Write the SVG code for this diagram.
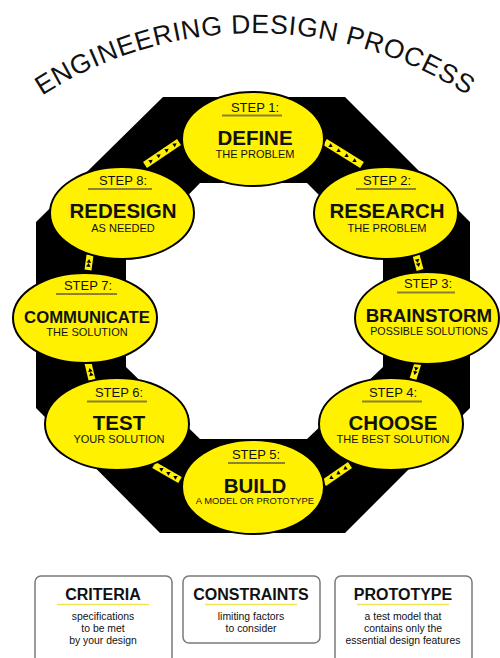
<svg xmlns="http://www.w3.org/2000/svg" xmlns:xlink="http://www.w3.org/1999/xlink" width="500" height="658" viewBox="0 0 500 658">
<style>
text{font-family:"Liberation Sans",Arial,Helvetica,sans-serif;fill:#111;text-anchor:middle}
.ell{fill:#fff100;stroke:#000;stroke-width:2}
.step{font-size:13px}
.title{font-size:20.5px;font-weight:bold}
.sub{font-size:11px}
.ul{stroke:#8a8232;stroke-width:2}
.strip{fill:none;stroke:#fff100;stroke-width:7}
.arr{fill:none;stroke:none;marker-start:url(#tri);marker-mid:url(#tri);marker-end:url(#tri)}
.box{fill:#fff;stroke:#7a7a7a;stroke-width:1.5}
.bh{font-size:16px;font-weight:bold}
.bt{font-size:10.4px}
.bul{stroke:#f2e450;stroke-width:1.6}
</style>
<defs>
<marker id="tri" viewBox="0 0 10 10" refX="5" refY="5" markerWidth="5" markerHeight="5" markerUnits="userSpaceOnUse" orient="auto">
<path d="M1.5,0.5 L9,5 L1.5,9.5 z" fill="#000"/>
</marker>
<path id="arc" d="M 2.4 125 A 393 393 0 0 1 507.6 125"/>
</defs>

<g id="heading">
<text style="font-size:26.5px;letter-spacing:0.7px"><textPath xlink:href="#arc" href="#arc" startOffset="50%">ENGINEERING DESIGN PROCESS</textPath></text>
</g>

<g id="ring">
<path fill="#000" fill-rule="evenodd" d="M163,97 L345,97 L470,222 L470,408 L345,533 L160,533 L36,408 L36,222 Z M200,183 L307,183 L383,259 L383,367 L307,439 L200,439 L126,367 L126,259 Z"/>
</g>

<g id="connectors">
<path class="strip" d="M145,165 L179,142"/>
<path class="arr" d="M151,161 L159,155.5 L167,150 L175,144.5"/>
<path class="strip" d="M325,142 L362,165"/>
<path class="arr" d="M331,146 L339,151 L347,156 L355,161"/>
<path class="strip" d="M416,255 L420,270"/>
<path class="arr" d="M417.5,261 L418.5,265"/>
<path class="strip" d="M418,363 L413,379"/>
<path class="arr" d="M416,369 L415,373"/>
<path class="strip" d="M350,465 L324,483"/>
<path class="arr" d="M345,468.5 L338,473.3 L331,478"/>
<path class="strip" d="M180,480 L154,465"/>
<path class="arr" d="M175,477 L168,473 L161,469"/>
<path class="strip" d="M92,380 L88,363"/>
<path class="arr" d="M91,374 L90,370"/>
<path class="strip" d="M88,270 L90,255"/>
<path class="arr" d="M88.5,265 L89,261"/>
</g>

<g id="step1">
<ellipse class="ell" cx="253" cy="139" rx="71" ry="47"/>
<text class="step" x="255" y="112">STEP 1:</text>
<line class="ul" x1="222" y1="115.5" x2="282" y2="115.5"/>
<text class="title" x="255" y="145">DEFINE</text>
<text class="sub" x="255" y="158">THE PROBLEM</text>
</g>

<g id="step2">
<ellipse class="ell" cx="386" cy="213" rx="72" ry="46"/>
<text class="step" x="387" y="185">STEP 2:</text>
<line class="ul" x1="356" y1="189" x2="416" y2="189"/>
<text class="title" x="387" y="218">RESEARCH</text>
<text class="sub" x="387" y="232">THE PROBLEM</text>
</g>

<g id="step3">
<ellipse class="ell" cx="427" cy="318" rx="72" ry="46"/>
<text class="step" x="428" y="288">STEP 3:</text>
<line class="ul" x1="397" y1="292.5" x2="455" y2="292.5"/>
<text class="title" x="429" y="321.5" style="font-size:18.7px">BRAINSTORM</text>
<text class="sub" x="429" y="335" style="font-size:10.7px">POSSIBLE SOLUTIONS</text>
</g>

<g id="step4">
<ellipse class="ell" cx="391" cy="424" rx="72" ry="46"/>
<text class="step" x="393" y="397">STEP 4:</text>
<line class="ul" x1="362" y1="401.5" x2="422" y2="401.5"/>
<text class="title" x="393" y="430">CHOOSE</text>
<text class="sub" x="393" y="443">THE BEST SOLUTION</text>
</g>

<g id="step5">
<ellipse class="ell" cx="253" cy="487" rx="71" ry="47"/>
<text class="step" x="256" y="459">STEP 5:</text>
<line class="ul" x1="228" y1="463" x2="285" y2="463"/>
<text class="title" x="255" y="493">BUILD</text>
<text class="sub" x="255" y="504" style="font-size:9.4px">A MODEL OR PROTOTYPE</text>
</g>

<g id="step6">
<ellipse class="ell" cx="117" cy="424" rx="72" ry="46"/>
<text class="step" x="119" y="397">STEP 6:</text>
<line class="ul" x1="87" y1="401.5" x2="147" y2="401.5"/>
<text class="title" x="119" y="430">TEST</text>
<text class="sub" x="119" y="443">YOUR SOLUTION</text>
</g>

<g id="step7">
<ellipse class="ell" cx="85" cy="318" rx="72" ry="45"/>
<text class="step" x="88" y="290">STEP 7:</text>
<line class="ul" x1="56" y1="294" x2="117" y2="294"/>
<text class="title" x="87" y="322.5" style="font-size:16.7px">COMMUNICATE</text>
<text class="sub" x="87" y="336">THE SOLUTION</text>
</g>

<g id="step8">
<ellipse class="ell" cx="122" cy="213" rx="72" ry="46"/>
<text class="step" x="123" y="185">STEP 8:</text>
<line class="ul" x1="88" y1="189" x2="152" y2="189"/>
<text class="title" x="123" y="218">REDESIGN</text>
<text class="sub" x="123" y="232">AS NEEDED</text>
</g>

<g id="criteria">
<rect class="box" x="35" y="576" width="137" height="92" rx="6"/>
<text class="bh" x="103" y="600">CRITERIA</text>
<line class="bul" x1="57" y1="604.5" x2="149" y2="604.5"/>
<text class="bt" x="103" y="620">specifications</text>
<text class="bt" x="103" y="632">to be met</text>
<text class="bt" x="103" y="644">by your design</text>
</g>

<g id="constraints">
<rect class="box" x="183" y="576" width="137" height="67" rx="6"/>
<text class="bh" x="251" y="600">CONSTRAINTS</text>
<line class="bul" x1="205" y1="604.5" x2="297" y2="604.5"/>
<text class="bt" x="251" y="620">limiting factors</text>
<text class="bt" x="251" y="632">to consider</text>
</g>

<g id="prototype">
<rect class="box" x="335" y="576" width="137" height="92" rx="6"/>
<text class="bh" x="403" y="600">PROTOTYPE</text>
<line class="bul" x1="357" y1="604.5" x2="449" y2="604.5"/>
<text class="bt" x="403" y="620">a test model that</text>
<text class="bt" x="403" y="632">contains only the</text>
<text class="bt" x="403" y="644">essential design features</text>
</g>
</svg>
